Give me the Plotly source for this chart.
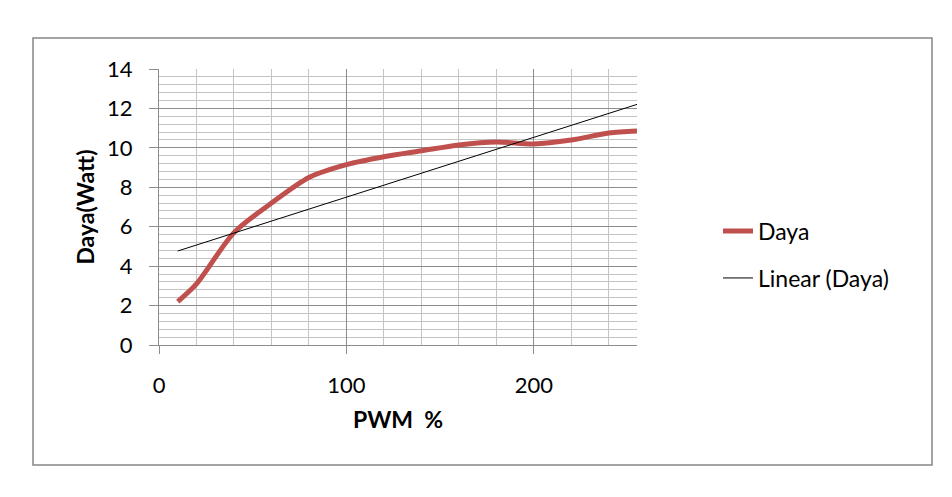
import numpy as np
import plotly.graph_objects as go

pwm = [10, 20, 40, 60, 80, 100, 120, 140, 160, 180, 200, 220, 240, 255]
daya = [2.2, 3.1, 5.7, 7.2, 8.5, 9.15, 9.55, 9.85, 10.15, 10.3, 10.2, 10.4, 10.75, 10.85]
x_ticks = [0, 100, 200]
y_ticks = [0, 2, 4, 6, 8, 10, 12, 14]

slope, intercept = np.polyfit(pwm, daya, 1)
trend_x = [min(pwm), max(pwm)]
trend_y = [slope * v + intercept for v in trend_x]

W, H = 952, 497
L, R, T, B = 159, 952 - 637, 69, 497 - 345
pw, ph = W - L - R, H - T - B

def px(xp):
    return (xp - L) / pw

def py(yp):
    return (H - B - yp) / ph

FONT = "Lato"
fig = go.Figure()
fig.add_trace(go.Scatter(x=pwm, y=daya, mode="lines", name="Daya",
                         line=dict(color="#C0504D", width=5, shape="spline", smoothing=0.8),
                         legend="legend"))
fig.add_trace(go.Scatter(x=trend_x, y=trend_y, mode="lines", name="Linear (Daya)",
                         line=dict(color="#000000", width=1), legend="legend2"))

fig.update_layout(
    width=W, height=H,
    margin=dict(l=L, r=R, t=T, b=B),
    paper_bgcolor="white", plot_bgcolor="white",
    font=dict(family=FONT, color="#000000", size=22),
    showlegend=True,
    legend=dict(x=px(718), y=py(231), xanchor="left", yanchor="middle",
                font=dict(size=23, family=FONT), bgcolor="rgba(0,0,0,0)"),
    legend2=dict(x=px(718), y=py(278), xanchor="left", yanchor="middle",
                 font=dict(size=23, family=FONT), bgcolor="rgba(0,0,0,0)"),
    xaxis=dict(range=[0, 255], tickvals=x_ticks, ticktext=[str(v) for v in x_ticks],
               showgrid=True, gridcolor="#8C8C8C", gridwidth=1,
               minor=dict(dtick=20, tick0=0, showgrid=True, gridcolor="#C4C4C4", gridwidth=1),
               showline=True, linecolor="#8C8C8C", linewidth=1,
               ticks="outside", ticklen=8, tickcolor="#8C8C8C",
               ticklabelstandoff=13, zeroline=False,
               title=dict(text="<b>PWM  %</b>", font=dict(size=23, family=FONT), standoff=14)),
    yaxis=dict(range=[0, 14], tickvals=y_ticks, ticktext=[str(v) for v in y_ticks],
               showgrid=True, gridcolor="#8C8C8C", gridwidth=1,
               minor=dict(dtick=0.4, tick0=0, showgrid=True, gridcolor="#C4C4C4", gridwidth=1),
               showline=True, linecolor="#8C8C8C", linewidth=1,
               ticks="outside", ticklen=9, tickcolor="#8C8C8C",
               ticklabelstandoff=12, zeroline=False,
               title=dict(text="<b>Daya(Watt)</b>", font=dict(size=23, family=FONT), standoff=6)),
    shapes=[dict(type="rect", xref="paper", yref="paper",
                 x0=px(33), x1=px(932), y0=py(465), y1=py(38),
                 line=dict(color="#868686", width=1.5), fillcolor="rgba(0,0,0,0)", layer="below")],
)

fig.write_html("out.html")
